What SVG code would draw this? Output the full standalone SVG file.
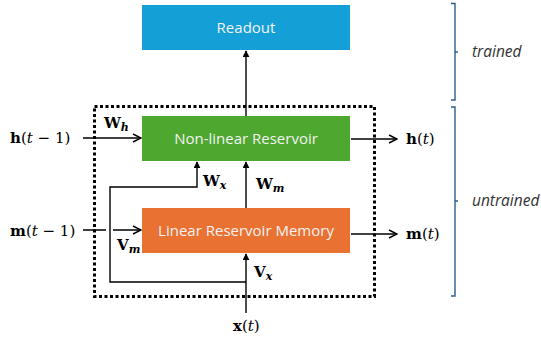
<svg xmlns="http://www.w3.org/2000/svg" width="541" height="337" viewBox="0 0 541 337">
<style>
.box{stroke:none}
.lbl{font-family:"Open Sans","Noto Sans",sans-serif;font-size:15px;fill:#F2F2F2;text-anchor:middle}
.m{font-family:"DejaVu Serif","Liberation Serif",serif;font-size:15px;fill:#000}
.b{font-weight:bold}
.i{font-style:italic}
.sub{font-size:11px;font-style:italic;font-weight:bold}
.ln{fill:none;stroke:#000;stroke-width:1.4}
.dot{fill:none;stroke:#000;stroke-width:3;stroke-dasharray:3 2.5}
.br{fill:none;stroke:#2B5F8A;stroke-width:1.4}
.side{font-family:"Open Sans","Noto Sans",sans-serif;font-size:15.5px;font-style:italic;fill:#333}
</style>
<defs>
<marker id="open" viewBox="0 0 10 10" refX="9" refY="5" markerWidth="10" markerHeight="10" markerUnits="userSpaceOnUse" orient="auto">
<path d="M1,1 L9,5 L1,9" fill="none" stroke="#000" stroke-width="1.4"/>
</marker>
<marker id="tri" viewBox="0 0 10 10" refX="9" refY="5" markerWidth="7" markerHeight="7" markerUnits="userSpaceOnUse" orient="auto">
<path d="M0,0 L10,5 L0,10 Z" fill="#000"/>
</marker>
</defs>
<rect class="dot" x="94.5" y="106.5" width="280" height="190"/>
<g id="readout"><rect class="box" x="142" y="5" width="208" height="45" fill="#149FD7"/><text class="lbl" x="246" y="33">Readout</text></g>
<g id="nonlinear"><rect class="box" x="142" y="116" width="208" height="45" fill="#4EA72E"/><text class="lbl" x="246" y="144">Non-linear Reservoir</text></g>
<g id="linear"><rect class="box" x="142" y="208" width="208" height="45" fill="#E97132"/><text class="lbl" x="246" y="236">Linear Reservoir Memory</text></g>
<g id="connectors">
<path class="ln" d="M246,116 V51" marker-end="url(#tri)"/>
<path class="ln" d="M83,138 H141" marker-end="url(#open)"/>
<path class="ln" d="M83,230 H106 M113,230 H141" marker-end="url(#open)"/>
<path class="ln" d="M351,139 H397" marker-end="url(#open)"/>
<path class="ln" d="M351,234 H397" marker-end="url(#open)"/>
<path class="ln" d="M246,208 V162" marker-end="url(#tri)"/>
<path class="ln" d="M246,313 V254" marker-end="url(#tri)"/>
<path class="ln" d="M246,282 H110 V187 H197 V162" marker-end="url(#tri)"/>
</g>
<g id="labels">
<text class="m" x="10" y="143"><tspan class="b">h</tspan>(<tspan class="i">t</tspan> − 1)</text>
<text class="m" x="10" y="236"><tspan class="b">m</tspan>(<tspan class="i">t</tspan> − 1)</text>
<text class="m" x="406" y="144"><tspan class="b">h</tspan>(<tspan class="i">t</tspan>)</text>
<text class="m" x="406" y="239"><tspan class="b">m</tspan>(<tspan class="i">t</tspan>)</text>
<text class="m" x="233" y="331"><tspan class="b">x</tspan>(<tspan class="i">t</tspan>)</text>
<text class="m b" x="104" y="128">W<tspan class="sub" dy="3">h</tspan></text>
<text class="m b" x="117" y="250">V<tspan class="sub" dy="3">m</tspan></text>
<text class="m b" x="203" y="186">W<tspan class="sub" dy="3">x</tspan></text>
<text class="m b" x="256" y="189">W<tspan class="sub" dy="3">m</tspan></text>
<text class="m b" x="254" y="277">V<tspan class="sub" dy="3">x</tspan></text>
</g>
<g id="braces">
<path class="br" d="M451,3.5 H455 V100 H451 M455,52 H458"/>
<path class="br" d="M451,107 H455 V296 H451 M455,201 H458"/>
<text class="side" x="472" y="57">trained</text>
<text class="side" x="472" y="206">untrained</text>
</g>
</svg>
